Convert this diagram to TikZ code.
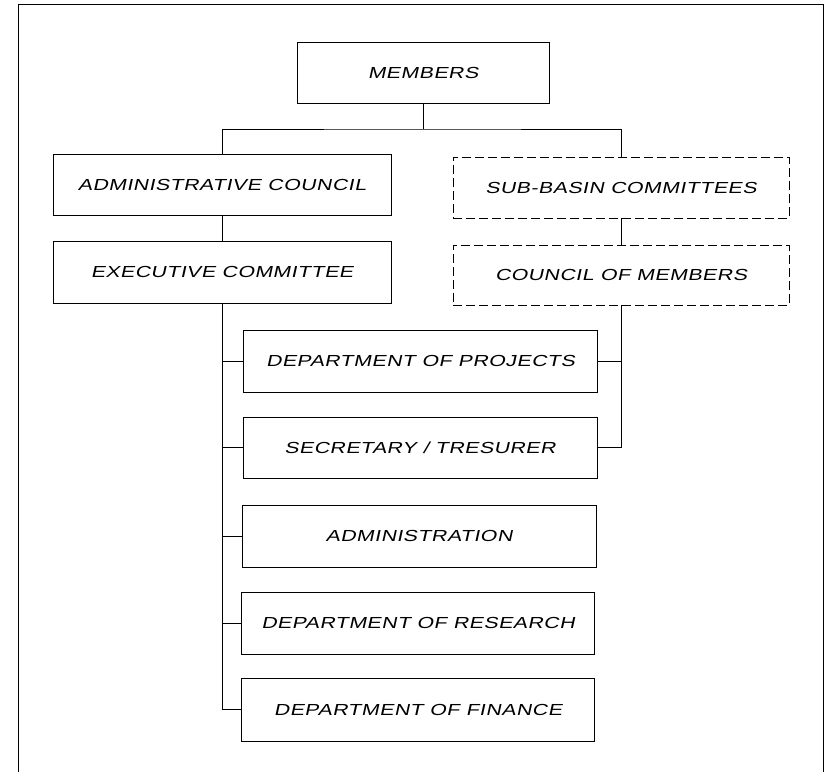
\documentclass[tikz,border=0pt]{standalone}
\usepackage{fontspec}
\newfontfamily\handfont[FakeSlant=0.22,FakeStretch=1.33,LetterSpace=3]{Liberation Sans}
\begin{document}
\begin{tikzpicture}[x=1pt,y=-1pt,
  box/.style={draw, line width=0.8pt, rectangle, inner sep=0pt, align=center,
    font=\handfont\fontsize{16}{18}\selectfont},
  dbox/.style={box, dash pattern=on 9pt off 4pt},
  conn/.style={draw, line width=0.8pt}]
\useasboundingbox (0,0) rectangle (830,772);
% outer frame (open at the bottom)
\draw[line width=1pt] (18,772) -- (18,4) -- (823,4) -- (823,772);
% boxes
\node[box, minimum width=252pt, minimum height=61pt] (mem) at (423,72.5) {MEMBERS};
\node[box, minimum width=338pt, minimum height=61pt] (adm) at (222,184.5) {ADMINISTRATIVE COUNCIL};
\node[box, minimum width=338pt, minimum height=62pt] (exe) at (222,272) {EXECUTIVE COMMITTEE};
\node[dbox, minimum width=336pt, minimum height=61pt] (sub) at (621,187.5) {SUB-BASIN COMMITTEES};
\node[dbox, minimum width=336pt, minimum height=60pt] (cou) at (621,275) {COUNCIL OF MEMBERS};
\node[box, minimum width=354pt, minimum height=62pt] (proj) at (420.5,361) {DEPARTMENT OF PROJECTS};
\node[box, minimum width=354pt, minimum height=61pt] (sec) at (420,447.5) {SECRETARY / TRESURER};
\node[box, minimum width=354pt, minimum height=62pt] (adm2) at (419,536) {ADMINISTRATION};
\node[box, minimum width=353pt, minimum height=62pt] (res) at (418,623) {DEPARTMENT OF RESEARCH};
\node[box, minimum width=353pt, minimum height=63pt] (fin) at (418,709.5) {DEPARTMENT OF FINANCE};
% connectors
\coordinate (bus) at (423,129);
\path[conn] (mem.south) -- (bus);
\path[conn] (adm.north) |- (bus) -| (sub.north);
\path[conn] (adm.south) -- (exe.north);
\path[conn] (sub.south) -- (cou.north);
\path[conn] (exe.south) -- (exe.south |- fin.west) -- (fin.west);
\path[conn] (exe.south |- proj.west) -- (proj.west);
\path[conn] (exe.south |- sec.west) -- (sec.west);
\path[conn] (exe.south |- adm2.west) -- (adm2.west);
\path[conn] (exe.south |- res.west) -- (res.west);
\path[conn] (cou.south) -- (cou.south |- sec.east) -- (sec.east);
\path[conn] (cou.south |- proj.east) -- (proj.east);
\end{tikzpicture}
\end{document}
